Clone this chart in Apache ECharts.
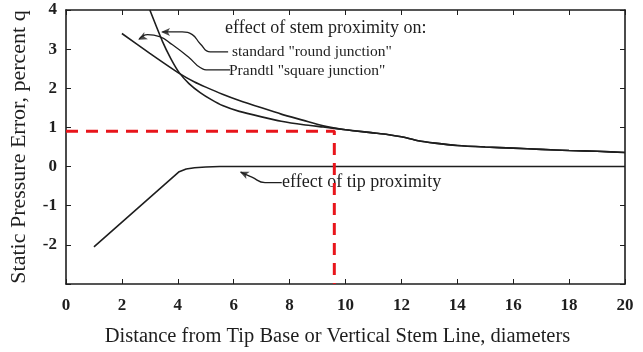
<!DOCTYPE html>
<html><head><meta charset="utf-8">
<script src="https://cdn.jsdelivr.net/npm/echarts@6/dist/echarts.min.js"></script>
<style>html,body{margin:0;padding:0;background:#fff}#c{width:643px;height:352px}</style>
</head><body><div id="c"></div>
<script>
// x ticks and y ticks
const xTicks = [0, 2, 4, 6, 8, 10, 12, 14, 16, 18, 20];
const yTicks = [-3, -2, -1, 0, 1, 2, 3, 4];
// Standard "round junction" (steep curve)
const roundJunction = [[3.0,4.0],[3.45,3.2],[3.75,2.76],[4.05,2.4],[4.4,2.12],[4.8,1.89],[5.2,1.71],[5.6,1.56],[6.2,1.41],[7.0,1.27],[7.7,1.16],[8.5,1.07],[9.2,1.01],[10.0,0.94],[11.0,0.86],[11.5,0.82],[12.0,0.76],[12.6,0.66],[13.2,0.6],[14.0,0.54],[15.0,0.5],[16.0,0.47],[17.0,0.44],[18.0,0.41],[19.0,0.39],[20.0,0.36]];
// Prandtl "square junction"
const squareJunction = [[2.0,3.4],[3.0,2.89],[4.05,2.38],[4.6,2.16],[5.0,2.03],[5.6,1.85],[6.2,1.69],[7.0,1.5],[7.7,1.34],[8.5,1.18],[9.2,1.04],[10.0,0.94],[11.0,0.86],[11.5,0.82],[12.0,0.76],[12.6,0.66],[13.2,0.6],[14.0,0.54],[15.0,0.5],[16.0,0.47],[17.0,0.44],[18.0,0.41],[19.0,0.39],[20.0,0.36]];
// effect of tip proximity
const tipProximity = [[1.0,-2.05],[4.05,-0.13],[4.3,-0.06],[4.6,-0.03],[5.0,-0.01],[5.5,0],[20,0]];
// red dashed reference
const redGuide = [[0,0.9],[9.6,0.9],[9.6,-3]];
// callout leader lines
const calloutRound = [[5.8,2.93],[5.16,2.93],[4.8,3.14],[4.52,3.37],[4.16,3.44],[3.45,3.44]];
const calloutSquare = [[5.87,2.47],[5.12,2.47],[4.8,2.53],[4.41,2.78],[3.81,3.11],[3.35,3.32],[2.92,3.37],[2.62,3.26]];
const calloutTip = [[7.72,-0.41],[7.12,-0.41],[6.65,-0.27],[6.25,-0.14]];
const arrowHeads = [[3.4,3.44,90],[2.58,3.24,117],[6.22,-0.13,65]];

const serif = '"Liberation Serif","DejaVu Serif",serif';
const ink = '#1e1e1e';
const chart = echarts.init(document.getElementById('c'));
const lineS = (data, extra) => Object.assign({type:'line', data, symbol:'none', smooth:false,
  lineStyle:{color:ink, width:1.6}, silent:true, z:3}, extra||{});
const frameAxis = {axisLine:{show:true, onZero:false, lineStyle:{color:ink, width:1.6}},
  axisTick:{show:true, inside:true, length:5, lineStyle:{color:ink}}, splitLine:{show:false}};
chart.setOption({
  animation:false,
  grid:{left:63, right:18, top:10, bottom:66},
  xAxis:[
    Object.assign({type:'value', min:0, max:20, interval:2, position:'bottom',
     axisLabel:{color:ink, fontFamily:serif, fontSize:17, fontWeight:'bold', margin:13},
     name:'Distance from Tip Base or Vertical Stem Line, diameters', nameLocation:'middle', nameGap:42,
     nameTextStyle:{color:ink, fontFamily:serif, fontSize:20.5, padding:[0,16,0,0]}}, frameAxis),
    Object.assign({type:'value', min:0, max:20, interval:2, position:'top', axisLabel:{show:false}}, frameAxis)
  ],
  yAxis:[
    Object.assign({type:'value', min:-3, max:4, interval:1, position:'left',
     axisLabel:{color:ink, fontFamily:serif, fontSize:17, margin:9, fontWeight:'bold',
       formatter:v => (v === yTicks[0] ? '' : String(v))},
     name:'Static Pressure Error, percent q', nameLocation:'middle', nameGap:36,
     nameTextStyle:{color:ink, fontFamily:serif, fontSize:22}}, frameAxis),
    Object.assign({type:'value', min:-3, max:4, interval:1, position:'right', axisLabel:{show:false}}, frameAxis)
  ],
  series:[
    lineS(roundJunction, {smooth:0.2}),
    lineS(squareJunction, {smooth:0.2}),
    lineS(tipProximity),
    {type:'line', data:redGuide, symbol:'none', silent:true, z:4,
     lineStyle:{color:'#e8151b', width:3, type:[12,8]}},
    lineS(calloutRound, {smooth:0.5, lineStyle:{color:ink, width:1.3}}),
    lineS(calloutSquare, {smooth:0.5, lineStyle:{color:ink, width:1.3}}),
    lineS(calloutTip, {smooth:0.5, lineStyle:{color:ink, width:1.3}}),
    {type:'scatter', silent:true, z:5,
     data:arrowHeads.map(a => ({value:[a[0],a[1]], symbol:'arrow', symbolSize:[6,9], symbolRotate:a[2]})),
     itemStyle:{color:ink}}
  ],
  graphic:[
    {type:'text', left:225, top:19, style:{text:'effect of stem proximity on:', fill:ink, font:'18px '+serif}},
    {type:'text', left:232, top:44, style:{text:'standard "round junction"', fill:ink, font:'15.5px '+serif}},
    {type:'text', left:229, top:63, style:{text:'Prandtl "square junction"', fill:ink, font:'15.5px '+serif}},
    {type:'text', left:282, top:173, style:{text:'effect of tip proximity', fill:ink, font:'18px '+serif}}
  ]
});
</script></body></html>
